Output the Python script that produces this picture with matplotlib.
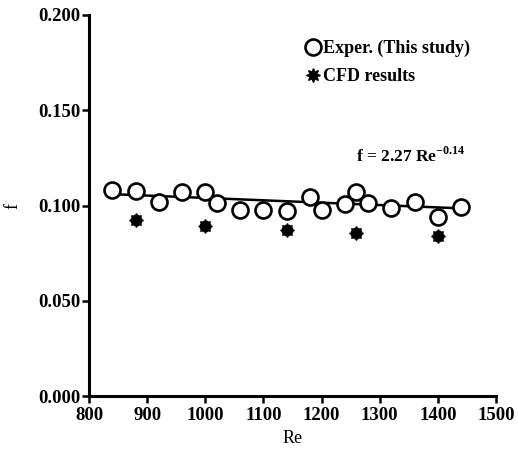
import numpy as np
import matplotlib
matplotlib.use("Agg")
import matplotlib.pyplot as plt

# Experimental data (this study)
re_exp = [840, 880, 920, 960, 1000, 1020, 1060, 1100, 1140, 1180, 1200, 1240, 1260, 1280, 1320, 1360, 1400, 1440]
f_exp = [0.1081, 0.1076, 0.1017, 0.1069, 0.1072, 0.1012, 0.0976, 0.0976, 0.0971, 0.1046,
         0.0976, 0.1006, 0.1069, 0.1015, 0.0985, 0.1017, 0.0941, 0.0994]

# CFD results
re_cfd = [880, 1000, 1140, 1260, 1400]
f_cfd = [0.0924, 0.0892, 0.0871, 0.0857, 0.0840]

# fitted line end points
re_fit = [845, 1440]
f_fit = [0.1059, 0.0985]

xticks = [800, 900, 1000, 1100, 1200, 1300, 1400, 1500]
yticks = [0.0, 0.05, 0.10, 0.15, 0.20]

plt.rcParams['font.family'] = ['Liberation Serif', 'DejaVu Serif']
plt.rcParams['font.weight'] = 'bold'
plt.rcParams['mathtext.fontset'] = 'custom'
plt.rcParams['mathtext.rm'] = 'Liberation Serif:bold'
plt.rcParams['mathtext.bf'] = 'Liberation Serif:bold'

fig = plt.figure(figsize=(5.18, 4.49), dpi=100)
ax = fig.add_axes([0.1718, 0.118, 0.7857, 0.8486])

ax.plot(re_fit, f_fit, '-k', lw=1.8, zorder=2)
ax.plot(re_exp, f_exp, 'o', ms=11.5, mfc='white', mec='black', mew=1.9, ls='none', zorder=3,
        label='Exper. (This study)')
ax.plot(re_cfd, f_cfd, marker=(8, 1, 0), ms=10, color='black', ls='none', zorder=3,
        label='CFD results')
ax.plot(re_cfd, f_cfd, marker='8', ms=7.5, color='black', ls='none', zorder=3)

ax.set_xlim(800, 1500)
ax.set_ylim(0, 0.2)
ax.set_xticks(xticks)
ax.set_yticks(yticks)
ax.set_yticklabels(['%.3f' % v for v in yticks])

for s in ['top', 'right']:
    ax.spines[s].set_visible(False)
for s in ['left', 'bottom']:
    ax.spines[s].set_linewidth(2.2)
ax.tick_params(direction='out', length=5, width=1.8, labelsize=13.5, pad=1)
ax.tick_params(axis='x', pad=3)

ax.set_xlabel('Re', fontsize=13, labelpad=4)
ax.set_ylabel('f', fontsize=13, labelpad=12)

leg = ax.legend(loc='upper left', bbox_to_anchor=(0.478, 0.977), frameon=False, fontsize=13,
                handletextpad=-0.2, labelspacing=0.6, handlelength=1.5, markerscale=1.0)

ax.text(1260, 0.123, r'f = 2.27 Re$^{\mathbf{-0.14}}$', fontsize=12.5)

fig.savefig('out.png', dpi=100)
